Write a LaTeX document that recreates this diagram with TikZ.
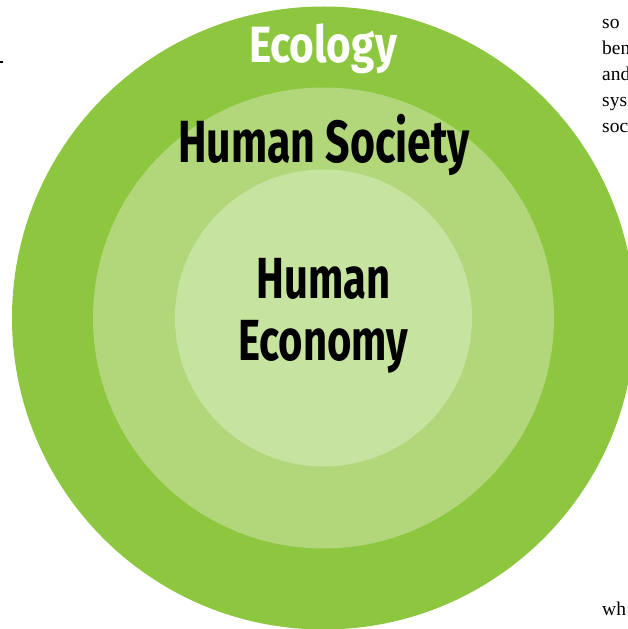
\documentclass[tikz,border=0pt]{standalone}
\usepackage{fontspec}
\setmainfont{Liberation Serif}
\newfontfamily\ringfont[FakeStretch=0.72]{Fira Sans}
\newfontfamily\ecologyfont[FakeStretch=0.83]{Fira Sans}
\usetikzlibrary{positioning}

\definecolor{ecology_green}{RGB}{141,198,63}
\definecolor{society_green}{RGB}{177,215,122}
\definecolor{economy_green}{RGB}{199,227,160}

\tikzset{
    ring/.style={
        circle,
        draw=none,
        inner sep=0pt,
        minimum size=#1
    },
    ring_label/.style={
        anchor=base,
        inner sep=0pt,
        align=center,
        font=\ringfont\bfseries\fontsize{#1}{62}\selectfont
    },
    page_text/.style={
        anchor=base west,
        inner sep=0pt,
        font=\fontsize{19.5}{26}\selectfont
    },
}

\begin{document}
\begin{tikzpicture}[x=1pt, y=1pt]
    \useasboundingbox (-323.5,-311) rectangle (304.5,318);

    \node[ring=623pt, fill=ecology_green] (ecology) at (0,0) {};
    \node[ring=461pt, fill=society_green] (society) at (ecology.center) {};
    \node[ring=297pt, fill=economy_green] (economy) at (ecology.center) {};

    \node[ring_label=51, white, font=\ecologyfont\bfseries\fontsize{51}{62}\selectfont] (ecology_label) at (-0.5,255) {Ecology};
    \node[ring_label=59.5] (society_label) at (0.5,155) {Human Society};
    \node[ring_label=58] (economy_label) at (0,-42) {Human\\Economy};

    % cropped text of the page around the figure
    \node[page_text] (line_so) at (278.5,289) {so};
    \node[page_text, below=26pt of line_so.base west, anchor=base west] (line_ben) {ben};
    \node[page_text, below=26pt of line_ben.base west, anchor=base west] (line_and) {and};
    \node[page_text, below=26pt of line_and.base west, anchor=base west] (line_sys) {sys};
    \node[page_text, below=26pt of line_sys.base west, anchor=base west] (line_soc) {soc};
    \node[page_text] (line_wh) at (278.5,-297) {wh};

    \coordinate (dash_start) at (-323.5,256);
    \coordinate (dash_end) at (-320.5,256);
    \draw[line width=1.3pt] (dash_start) -- (dash_end);
\end{tikzpicture}
\end{document}
